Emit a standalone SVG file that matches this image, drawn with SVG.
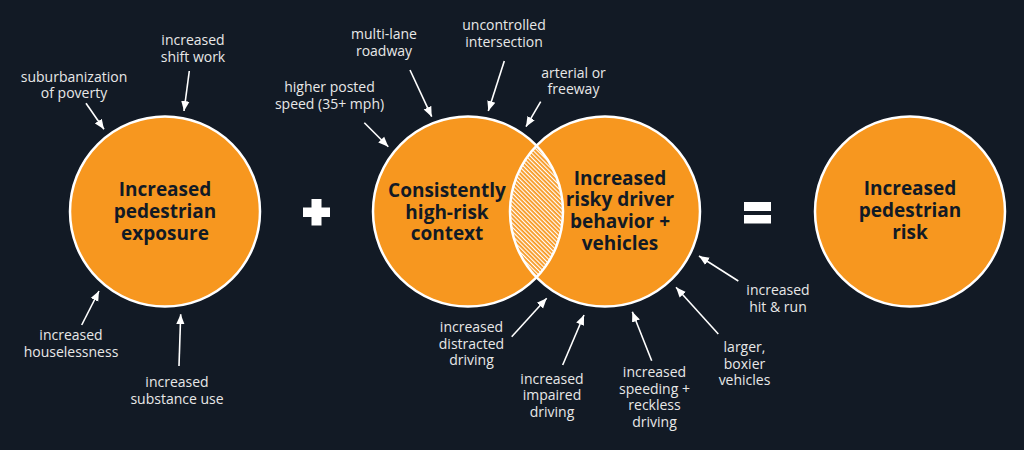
<svg xmlns="http://www.w3.org/2000/svg" width="1024" height="450" viewBox="0 0 1024 450">
<style>
.bg{fill:#121a25}
.circ{fill:#f7971f}
.ring{fill:none;stroke:#ffffff;stroke-width:2.5}
.main{font-family:"Open Sans","Noto Sans","Liberation Sans",sans-serif;font-weight:700;font-size:19px;fill:#121a25;text-anchor:middle}
.lbl{font-family:"Open Sans","Noto Sans","Liberation Sans",sans-serif;font-size:14px;fill:#e8e8e8;text-anchor:middle}
.arr{stroke:#ffffff;stroke-width:1.6;fill:none;marker-end:url(#ah)}
.op{fill:#ffffff}
</style>
<defs>
<marker id="ah" markerUnits="userSpaceOnUse" markerWidth="12" markerHeight="10" refX="10" refY="5" orient="auto">
<path d="M0,0.8 L10,5 L0,9.2 z" fill="#ffffff"/>
</marker>
<pattern id="hatch" patternUnits="userSpaceOnUse" width="3" height="3" patternTransform="rotate(-45)">
<rect width="3" height="3" fill="#f7971f"/>
<rect x="0" y="0" width="1.2" height="3" fill="#ffffff"/>
</pattern>
<clipPath id="clipL"><circle cx="468" cy="211.5" r="95"/></clipPath>
</defs>
<rect class="bg" x="0" y="0" width="1024" height="450"/>

<g id="node-exposure">
<circle class="circ" cx="165" cy="211.5" r="95"/>
<circle class="ring" cx="165" cy="211.5" r="95"/>
<text class="main" x="165" y="196">Increased</text>
<text class="main" x="165" y="218">pedestrian</text>
<text class="main" x="165" y="240">exposure</text>
</g>

<g id="op-plus">
<rect class="op" x="303" y="207.5" width="27" height="9.5"/>
<rect class="op" x="311.5" y="199" width="10" height="26.5"/>
</g>

<g id="node-context">
<circle class="circ" cx="468" cy="211.5" r="95"/>
</g>
<g id="node-behavior">
<circle class="circ" cx="605" cy="211.5" r="95"/>
</g>
<g id="overlap">
<circle cx="605" cy="211.5" r="95" fill="url(#hatch)" clip-path="url(#clipL)"/>
</g>
<g id="venn-rings">
<circle class="ring" cx="468" cy="211.5" r="95"/>
<circle class="ring" cx="605" cy="211.5" r="95"/>
</g>
<g id="node-context-text">
<text class="main" x="447" y="197">Consistently</text>
<text class="main" x="447" y="218.5">high-risk</text>
<text class="main" x="447" y="240">context</text>
</g>
<g id="node-behavior-text">
<text class="main" x="620" y="184.5">Increased</text>
<text class="main" x="620" y="206">risky driver</text>
<text class="main" x="620" y="228">behavior +</text>
<text class="main" x="620" y="250">vehicles</text>
</g>

<g id="op-equals">
<rect class="op" x="744" y="202" width="27" height="9"/>
<rect class="op" x="744" y="215" width="27" height="8.5"/>
</g>

<g id="node-risk">
<circle class="circ" cx="910" cy="211.5" r="95"/>
<circle class="ring" cx="910" cy="211.5" r="95"/>
<text class="main" x="910" y="195">Increased</text>
<text class="main" x="910" y="217">pedestrian</text>
<text class="main" x="910" y="239">risk</text>
</g>

<g id="labels">
<text class="lbl" x="193" y="44.5">increased</text>
<text class="lbl" x="193" y="61.5">shift work</text>
<text class="lbl" x="74" y="81.5">suburbanization</text>
<text class="lbl" x="74" y="98">of poverty</text>
<text class="lbl" x="71" y="340">increased</text>
<text class="lbl" x="71" y="357">houselessness</text>
<text class="lbl" x="177" y="386.5">increased</text>
<text class="lbl" x="177" y="403.5">substance use</text>
<text class="lbl" x="329.5" y="92">higher posted</text>
<text class="lbl" x="329.5" y="108.5">speed (35+ mph)</text>
<text class="lbl" x="384" y="39">multi-lane</text>
<text class="lbl" x="384" y="56">roadway</text>
<text class="lbl" x="504" y="30">uncontrolled</text>
<text class="lbl" x="504" y="47">intersection</text>
<text class="lbl" x="573.5" y="77.5">arterial or</text>
<text class="lbl" x="573.5" y="94">freeway</text>
<text class="lbl" x="471.5" y="331.5">increased</text>
<text class="lbl" x="471.5" y="348.5">distracted</text>
<text class="lbl" x="471.5" y="365">driving</text>
<text class="lbl" x="552" y="383.5">increased</text>
<text class="lbl" x="552" y="400">impaired</text>
<text class="lbl" x="552" y="416.5">driving</text>
<text class="lbl" x="654.5" y="376.5">increased</text>
<text class="lbl" x="654.5" y="393.5">speeding +</text>
<text class="lbl" x="654.5" y="410">reckless</text>
<text class="lbl" x="654.5" y="426.5">driving</text>
<text class="lbl" x="744.5" y="352">larger,</text>
<text class="lbl" x="744.5" y="368.5">boxier</text>
<text class="lbl" x="744.5" y="385">vehicles</text>
<text class="lbl" x="778" y="295">increased</text>
<text class="lbl" x="778" y="312">hit &amp; run</text>
</g>

<g id="connectors">
<line class="arr" x1="189.3" y1="71" x2="184" y2="111"/>
<line class="arr" x1="86" y1="103.3" x2="104" y2="129.3"/>
<line class="arr" x1="81.7" y1="325" x2="99" y2="291"/>
<line class="arr" x1="179" y1="366" x2="180.7" y2="314.3"/>
<line class="arr" x1="364.3" y1="122.7" x2="388.3" y2="146.7"/>
<line class="arr" x1="410" y1="70" x2="431.7" y2="116.7"/>
<line class="arr" x1="504.3" y1="61" x2="488.3" y2="111"/>
<line class="arr" x1="540.7" y1="101.7" x2="526" y2="126.7"/>
<line class="arr" x1="511.7" y1="336.7" x2="546.7" y2="298.3"/>
<line class="arr" x1="562.7" y1="365" x2="584" y2="315"/>
<line class="arr" x1="651.7" y1="360.7" x2="632.3" y2="311.7"/>
<line class="arr" x1="718.3" y1="334" x2="676" y2="287.3"/>
<line class="arr" x1="738.3" y1="281" x2="699" y2="256"/>
</g>
</svg>
